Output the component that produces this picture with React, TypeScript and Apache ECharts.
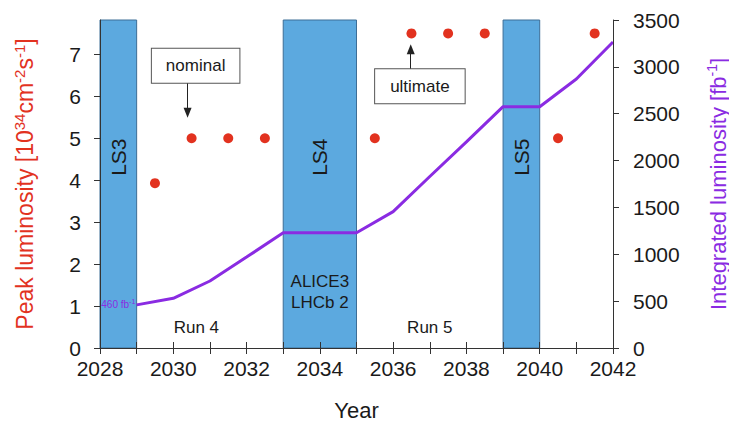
import React, { useEffect, useRef } from "react";
import * as echarts from "echarts";

// Peak luminosity (left axis, 10^34 cm^-2 s^-1)
const peakYears = [2029.5, 2030.5, 2031.5, 2032.5, 2035.5, 2036.5, 2037.5, 2038.5, 2040.5, 2041.5];
const peakValues = [3.93, 5, 5, 5, 5, 7.5, 7.5, 7.5, 5, 7.5];

// Integrated luminosity (right axis, fb^-1)
const intYears = [2029, 2030, 2031, 2032, 2033, 2035, 2036, 2037, 2038, 2039, 2040, 2041, 2042];
const intValues = [460, 530, 715, 970, 1230, 1230, 1455, 1830, 2200, 2575, 2575, 2870, 3265];

// Long shutdowns
const shutdownNames = ["LS3", "LS4", "LS5"];
const shutdownStart = [2028, 2033, 2039];
const shutdownEnd = [2029, 2035, 2040];

// Axis ticks
const leftTicks = [0, 1, 2, 3, 4, 5, 6, 7];
const yearMin = 2028;
const yearMax = 2042;

const FONT = "'Liberation Sans', Arial, Helvetica, sans-serif";
const RED = "#e2321f";
const PURPLE = "#8a2be2";
const BLUE = "#5ca9df";
const INK = "#1a1a1a";

export default function App() {
  const ref = useRef<HTMLDivElement>(null);

  useEffect(() => {
    if (!ref.current) return;
    const chart = echarts.init(ref.current, undefined, { renderer: "svg" });

    const txt = (value: number[], text: string, extra: any = {}) => ({
      value,
      label: {
        show: true,
        position: "inside",
        formatter: text,
        color: INK,
        opacity: 1,
        fontFamily: FONT,
        fontSize: 17,
        ...extra,
      },
    });

    const labelData: any[] = [
      ...shutdownNames.map((n, i) =>
        txt([(shutdownStart[i] + shutdownEnd[i]) / 2, 4.55], n, { rotate: 90, fontSize: 21 })
      ),
      txt([2034, 1.33], "ALICE3\nLHCb 2", { lineHeight: 21, fontSize: 17 }),
      txt([2030.63, 0.5], "Run 4"),
      txt([2037.0, 0.5], "Run 5"),
      txt([2030.61, 6.73], "nominal", {
        backgroundColor: "#fff",
        borderColor: "#555",
        borderWidth: 1,
        padding: [8, 14, 8, 14],
        lineHeight: 18,
      }),
      txt([2036.73, 6.24], "ultimate", {
        backgroundColor: "#fff",
        borderColor: "#555",
        borderWidth: 1,
        padding: [8, 15, 8, 15],
        lineHeight: 18,
      }),
      txt([2028.5, 1.04], "{a|460 fb}{b|-1}", {
        rich: {
          a: { fontSize: 10, color: PURPLE, fontFamily: FONT, lineHeight: 12 },
          b: { fontSize: 7, color: PURPLE, fontFamily: FONT, verticalAlign: "top", lineHeight: 7 },
        },
      }),
    ];

    const axisLine = { show: true, lineStyle: { color: "#333", width: 1 } };
    const axisTick = { show: true, inside: false, length: 6, lineStyle: { color: "#333", width: 1 } };

    chart.setOption({
      animation: false,
      backgroundColor: "#fff",
      grid: { left: 100, right: 120, top: 20, bottom: 77, containLabel: false },
      xAxis: [
        {
          type: "value",
          min: yearMin,
          max: yearMax,
          interval: 1,
          position: "bottom",
          z: 5,
          axisLine,
          axisTick,
          splitLine: { show: false },
          axisLabel: {
            margin: 10,
            fontSize: 21,
            color: INK,
            fontFamily: FONT,
            formatter: (v: number) => (v % 2 === 0 ? String(v) : ""),
          },
          name: "Year",
          nameLocation: "middle",
          nameGap: 51,
          nameTextStyle: { fontSize: 22, color: INK, fontFamily: FONT },
        },
        {
          type: "value",
          min: yearMin,
          max: yearMax,
          interval: 1,
          position: "top",
          z: 5,
          axisLine,
          axisTick,
          splitLine: { show: false },
          axisLabel: { show: false },
        },
      ],
      yAxis: [
        {
          type: "value",
          min: 0,
          max: 7.82,
          position: "left",
          z: 5,
          axisLine,
          axisTick: { ...axisTick, customValues: leftTicks },
          splitLine: { show: false },
          axisLabel: {
            customValues: leftTicks,
            margin: 19,
            fontSize: 21,
            color: INK,
            fontFamily: FONT,
          },
          name: "{t|Peak luminosity [10}{s|34}{t|cm}{s|-2}{t|s}{s|-1}{t|]}",
          nameLocation: "middle",
          nameRotate: 90,
          nameGap: 62,
          nameTextStyle: {
            rich: {
              t: { fontSize: 23, color: RED, fontFamily: FONT, lineHeight: 26 },
              s: { fontSize: 15, color: RED, fontFamily: FONT, verticalAlign: "top", lineHeight: 15 },
            },
          },
        },
        {
          type: "value",
          min: 0,
          max: 3500,
          interval: 500,
          position: "right",
          z: 5,
          axisLine,
          axisTick,
          splitLine: { show: false },
          axisLabel: {
            margin: 20,
            fontSize: 21,
            color: INK,
            fontFamily: FONT,
            formatter: (v: number) => String(v),
          },
          name: "{t|Integrated luminosity [fb}{s|-1}{t|]}",
          nameLocation: "middle",
          nameRotate: 90,
          nameGap: 92,
          nameTextStyle: {
            rich: {
              t: { fontSize: 22, color: PURPLE, fontFamily: FONT, lineHeight: 26 },
              s: { fontSize: 14, color: PURPLE, fontFamily: FONT, verticalAlign: "top", lineHeight: 14 },
            },
          },
        },
      ],
      series: [
        {
          name: "shutdowns",
          type: "line",
          data: [],
          z: 1,
          markArea: {
            silent: true,
            itemStyle: { color: BLUE, opacity: 1, borderColor: "#3d6e97", borderWidth: 1 },
            label: { show: false },
            data: shutdownNames.map((_, i) => [
              { xAxis: shutdownStart[i] },
              { xAxis: shutdownEnd[i] },
            ]),
          },
        },
        {
          name: "Integrated luminosity",
          type: "line",
          yAxisIndex: 1,
          z: 3,
          showSymbol: false,
          symbol: "none",
          lineStyle: { color: PURPLE, width: 3 },
          data: intYears.map((y, i) => [y, intValues[i]]),
        },
        {
          name: "Peak luminosity",
          type: "scatter",
          yAxisIndex: 0,
          z: 4,
          symbol: "circle",
          symbolSize: 10,
          itemStyle: { color: RED, opacity: 1 },
          data: peakYears.map((y, i) => [y, peakValues[i]]),
        },
        {
          name: "annotations",
          type: "scatter",
          yAxisIndex: 0,
          z: 6,
          symbolSize: 0,
          silent: true,
          itemStyle: { opacity: 1 },
          data: labelData,
          markLine: {
            silent: true,
            symbol: ["none", "triangle"],
            symbolSize: [8, 10],
            lineStyle: { color: "#222", width: 1, type: "solid", opacity: 1 },
            itemStyle: { color: "#222" },
            label: { show: false },
            data: [
              [{ coord: [2030.39, 6.69] }, { coord: [2030.39, 5.61] }],
              [{ coord: [2036.48, 6.63] }, { coord: [2036.48, 7.12] }],
            ],
          },
        },
      ],
    });

    return () => chart.dispose();
  }, []);

  return <div ref={ref} style={{ width: 737, height: 426, margin: -8 }} />;
}
